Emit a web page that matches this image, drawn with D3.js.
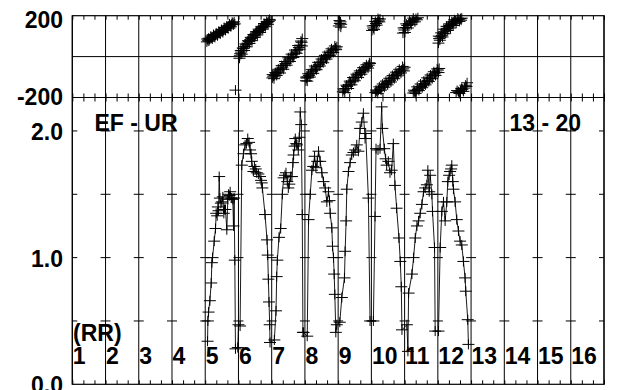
<!DOCTYPE html>
<html><head><meta charset="utf-8">
<script src="https://cdn.jsdelivr.net/npm/d3@7"></script>
<style>
body{margin:0;background:#fff}
svg text{font-family:"Liberation Sans",Arial,sans-serif;font-weight:bold;font-size:23px;fill:#000}
</style>
</head><body><svg id="c" width="618" height="390"></svg>
<script>
// ---------- data ----------
const hourLabels = ["1","2","3","4","5","6","7","8","9","10","11","12","13","14","15","16"];
const baselineLabel = "EF - UR";
const rangeLabel = "13 - 20";
const unitLabel = "(RR)";

const ampHours = [
 5.07,5.08,5.10,5.14,5.18,5.20,5.22,5.27,5.31,5.33,5.36,5.38,5.40,5.42,5.44,5.47,5.50,5.53,5.56,5.58,5.61,5.65,5.68,5.70,5.73,5.75,5.78,5.80,5.83,5.85,5.87,5.89,5.91,5.98,
 6.00,6.05,6.10,6.15,6.20,6.24,6.28,6.32,6.35,6.38,6.40,6.45,6.48,6.52,6.55,6.60,6.65,6.68,6.70,6.72,6.80,6.86,6.88,6.90,6.92,6.94,6.95,
 7.08,7.13,7.15,7.17,7.22,7.27,7.32,7.36,7.40,7.43,7.47,7.50,7.53,7.57,7.61,7.64,7.66,7.69,7.71,7.74,7.76,7.80,7.83,7.86,7.89,7.92,7.94,7.96,8.07,
 8.11,8.16,8.21,8.25,8.29,8.33,8.37,8.41,8.46,8.51,8.56,8.61,8.66,8.71,8.74,8.76,8.81,8.83,8.86,8.88,8.90,8.93,8.96,
 9.05,9.11,9.19,9.21,9.24,9.26,9.31,9.36,9.41,9.46,9.51,9.56,9.61,9.66,9.71,9.76,9.81,9.83,9.91,9.96,10.06,
 10.11,10.14,10.20,10.26,10.31,10.33,10.39,10.43,10.46,10.51,10.56,10.61,10.66,10.71,10.76,10.83,10.87,10.90,10.92,11.07,
 11.10,11.12,11.22,11.27,11.32,11.37,11.42,11.47,11.52,11.57,11.62,11.67,11.70,11.74,11.77,11.82,11.84,11.90,11.92,12.02,
 12.07,12.12,12.17,12.22,12.27,12.30,12.34,12.37,12.40,12.42,12.45,12.47,12.52,12.57,12.62,12.67,12.72,12.77,12.82,12.84,12.90,12.92
];
const ampValues = [
 0.34,0.50,0.57,0.66,0.80,0.96,1.00,1.13,1.23,1.35,1.33,1.40,1.37,1.64,1.47,1.43,1.44,1.48,1.35,1.38,1.38,1.22,1.46,1.50,1.49,1.52,1.47,1.47,1.46,1.25,1.47,0.98,0.28,0.29,
 0.47,0.46,1.73,1.82,1.89,1.90,1.94,1.91,1.85,1.82,1.76,1.68,1.72,1.70,1.67,1.66,1.64,1.61,1.59,1.55,1.34,1.14,1.02,0.83,0.65,0.47,0.33,
 0.35,0.58,0.85,0.98,1.16,1.23,1.50,1.63,1.65,1.67,1.60,1.55,1.58,1.64,1.64,1.75,1.81,1.88,1.94,1.90,1.89,1.85,1.95,2.15,2.05,1.34,0.41,0.41,0.38,
 1.30,1.50,1.69,1.72,1.80,1.71,1.76,1.84,1.76,1.67,1.60,1.55,1.44,1.52,1.45,1.35,1.235,1.09,1.00,0.87,0.71,0.41,0.47,
 0.49,0.685,0.84,1.05,1.29,1.54,1.68,1.75,1.81,1.83,1.85,1.89,1.84,2.02,2.07,2.14,1.94,1.98,1.47,0.50,0.50,
 1.325,1.86,1.85,1.86,2.19,2.02,1.86,1.78,1.73,1.76,1.67,1.69,1.90,1.57,1.39,1.155,0.97,0.77,0.43,0.47,
 0.26,0.72,0.87,1.00,1.155,1.25,1.29,1.35,1.42,1.52,1.55,1.575,1.69,1.52,1.65,1.50,1.365,1.08,0.42,0.42,
 1.08,1.365,1.44,1.29,1.44,1.60,1.65,1.68,1.70,1.73,1.60,1.54,1.44,1.30,1.21,1.13,1.10,0.97,0.84,0.735,0.51,0.315
];

const phaseHours = [
 5.05,5.08,5.11,5.15,5.19,5.23,5.27,5.31,5.35,5.39,5.43,5.47,5.51,5.55,5.59,5.63,5.67,5.71,5.75,5.79,5.83,5.87,5.89,
 5.06,5.10,5.13,5.17,5.21,5.25,5.29,5.33,5.37,5.41,5.45,5.49,5.53,5.57,5.61,5.65,5.69,5.73,5.77,5.81,5.85,
 5.91,
 6.03,6.05,6.08,6.11,6.15,6.19,6.23,6.27,6.31,6.35,6.39,6.43,6.47,6.51,6.55,6.59,6.63,6.67,6.71,6.75,6.79,6.83,6.87,6.91,6.95,
 6.04,6.07,6.10,6.13,6.17,6.21,6.25,6.29,6.33,6.37,6.41,6.45,6.49,6.53,6.57,6.61,6.65,6.69,6.73,6.77,6.81,6.85,6.89,6.93,
 7.02,7.05,7.09,7.13,7.17,7.22,7.27,7.32,7.37,7.42,7.47,7.52,7.57,7.62,7.67,7.72,7.77,7.82,7.86,7.90,7.92,
 7.03,7.07,7.11,7.15,7.20,7.25,7.30,7.35,7.40,7.45,7.50,7.55,7.60,7.65,7.70,7.75,7.80,7.84,7.88,7.91,
 8.03,8.05,8.08,8.12,8.17,8.22,8.27,8.32,8.37,8.42,8.47,8.52,8.57,8.62,8.67,8.72,8.77,8.82,8.87,8.92,8.96,
 8.04,8.07,8.10,8.15,8.20,8.25,8.30,8.35,8.40,8.45,8.50,8.55,8.60,8.65,8.70,8.75,8.80,8.85,8.90,8.94,
 9.02,9.05,9.07,9.09,9.04,9.08,
 9.14,9.18,9.22,9.27,9.32,9.37,9.42,9.47,9.52,9.57,9.62,9.67,9.72,9.77,9.82,9.87,9.92,9.96,
 9.16,9.20,9.25,9.30,9.35,9.40,9.45,9.50,9.55,9.60,9.65,9.70,9.75,9.80,9.85,9.90,9.94,
 10.02,10.06,10.10,10.14,10.18,10.22,10.26,10.04,10.08,10.12,10.16,10.20,10.24,
 10.12,10.16,10.21,10.26,10.31,10.36,10.41,10.46,10.51,10.56,10.61,10.66,10.71,10.76,10.81,10.86,10.91,10.96,11.00,
 10.14,10.19,10.24,10.29,10.34,10.39,10.44,10.49,10.54,10.59,10.64,10.69,10.74,10.79,10.84,10.89,10.94,10.98,
 10.95,10.99,11.03,11.08,11.13,11.18,11.23,11.28,11.34,11.40,
 10.97,11.01,11.05,11.10,11.15,11.20,11.26,11.31,11.37,
 11.26,11.30,11.35,11.40,11.45,11.50,11.55,11.60,11.65,11.70,11.75,11.80,11.85,11.90,11.95,12.00,12.04,
 11.28,11.33,11.38,11.43,11.48,11.53,11.58,11.63,11.68,11.73,11.78,11.83,11.88,11.93,11.98,12.02,
 12.02,12.04,12.08,12.12,12.16,12.20,12.24,12.28,12.32,12.36,12.40,12.44,12.48,12.53,12.58,12.63,12.68,12.72,
 12.03,12.06,12.10,12.14,12.18,12.22,12.26,12.30,12.34,12.38,12.42,12.46,12.50,12.55,12.60,12.65,12.70,
 12.55,12.62,12.68,12.74,12.80,12.86,12.88,12.58,12.65,12.71,12.77,12.83
];
const phaseDeg = [
 72,80,76,88,92,96,100,104,110,114,118,122,126,130,134,140,144,150,154,158,164,170,160,
 86,90,84,100,86,108,94,116,102,124,110,132,118,142,128,150,136,160,146,168,156,
 -164,
 -8,14,22,30,40,50,58,66,74,82,88,96,104,110,116,122,128,136,142,148,154,160,166,172,178,
 4,30,12,42,30,62,48,78,64,94,78,108,94,122,106,134,118,148,134,162,146,172,158,182,
 -104,-96,-92,-84,-76,-70,-60,-52,-42,-34,-26,-16,-8,2,12,22,32,44,56,70,88,
 -88,-108,-78,-92,-62,-80,-44,-62,-24,-42,-6,-24,12,-4,32,16,54,36,76,52,
 -118,-105,-100,-92,-84,-74,-66,-56,-48,-38,-30,-22,-12,-4,4,12,20,28,34,42,48,
 -100,-120,-84,-100,-64,-82,-46,-64,-28,-46,-12,-30,6,-12,22,6,38,20,52,34,
 150,162,170,158,176,144,
 -172,-164,-156,-146,-138,-128,-120,-110,-102,-94,-86,-78,-70,-62,-56,-48,-42,-34,
 -158,-176,-140,-156,-120,-138,-102,-118,-86,-102,-70,-86,-54,-70,-40,-56,-30,
 128,140,152,162,170,178,184,150,132,172,154,186,170,
 -176,-170,-164,-158,-150,-144,-136,-130,-124,-116,-108,-100,-92,-86,-80,-72,-66,-60,-52,
 -164,-180,-148,-164,-134,-150,-120,-138,-106,-124,-92,-108,-76,-94,-62,-80,-48,-70,
 115,130,142,152,160,168,174,180,186,190,
 140,118,160,140,174,156,188,170,180,
 -178,-172,-166,-160,-154,-146,-140,-132,-124,-116,-108,-100,-92,-84,-76,-66,-58,
 -164,-180,-148,-166,-134,-152,-120,-138,-104,-122,-90,-108,-74,-92,-60,-78,
 66,88,96,104,114,122,130,138,146,152,158,164,170,174,178,182,186,188,
 100,80,116,96,134,112,148,128,160,140,170,152,180,164,188,172,178,
 -176,-172,-168,-160,-154,-146,-128,-166,-180,-156,-170,-140
];

const ampTickValues = [0.5, 1.0, 1.5, 2.0];
const ampLabelValues = [0, 1, 2];
const ampLabelText = ["0.0", "1.0", "2.0"];
const phaseLabelValues = [200, -200];
const phaseLabelText = ["200", "-200"];

// ---------- layout ----------
const L = 72.3, R = 604, T = 15.7, MID = 97.5, B = 384.3;
const svg = d3.select("#c");
const x = d3.scaleLinear().domain([1, 17]).range([L, R]);
const yP = d3.scaleLinear().domain([-200, 200]).range([MID, T]);
const yA = d3.scaleLinear().domain([0, 2.264]).range([B, MID]);

const hourLines = d3.range(1, 18);
const minorTicks = d3.range(1, 17.001, 1/3);

// vertical hour grid lines
svg.append("g").selectAll("line").data(hourLines).join("line")
  .attr("x1", d => x(d)).attr("x2", d => x(d)).attr("y1", T).attr("y2", B)
  .attr("stroke", "#000").attr("stroke-width", 1);

// frames
svg.append("rect").attr("x", L).attr("y", T).attr("width", R - L).attr("height", B - T)
  .attr("fill", "none").attr("stroke", "#000").attr("stroke-width", 1.2);
svg.append("line").attr("x1", L).attr("x2", R).attr("y1", MID).attr("y2", MID)
  .attr("stroke", "#000").attr("stroke-width", 1.2);
svg.append("line").attr("x1", L).attr("x2", R).attr("y1", yP(0)).attr("y2", yP(0))
  .attr("stroke", "#000").attr("stroke-width", 1);

// minor time ticks via d3 axes
function minorAxis(axisFn, y, size) {
  const g = svg.append("g").attr("transform", `translate(0,${y})`)
    .call(axisFn(x).tickValues(minorTicks).tickSize(size).tickFormat(""));
  g.select(".domain").remove();
  g.selectAll("line").attr("stroke", "#000");
}
minorAxis(d3.axisBottom, T, 4);
minorAxis(d3.axisTop, MID, 4);
minorAxis(d3.axisBottom, MID, 4);
minorAxis(d3.axisTop, B, 4);

// amplitude tick dashes across every hour line
const tickPairs = [];
hourLines.forEach(h => ampTickValues.forEach(v => tickPairs.push([h, v])));
svg.append("g").selectAll("line").data(tickPairs).join("line")
  .attr("x1", d => d[0] === 1 ? x(d[0]) : x(d[0]) - 5)
  .attr("x2", d => d[0] === 17 ? x(d[0]) : x(d[0]) + 5)
  .attr("y1", d => yA(d[1])).attr("y2", d => yA(d[1]))
  .attr("stroke", "#000").attr("stroke-width", 1);

// y labels
svg.append("g").selectAll("text").data(phaseLabelValues).join("text")
  .attr("x", 63).attr("y", (d, i) => i === 0 ? 28 : yP(d) + 7)
  .attr("text-anchor", "end").text((d, i) => phaseLabelText[i]);
svg.append("g").selectAll("text").data(ampLabelValues).join("text")
  .attr("x", 63).attr("y", d => yA(d) + 9)
  .attr("text-anchor", "end").text((d, i) => ampLabelText[i]);

// hour labels
svg.append("g").selectAll("text").data(hourLabels).join("text")
  .attr("x", (d, i) => x(i + 1) + 0.5).attr("y", 363.5).text(d => d);
svg.append("text").attr("x", 73).attr("y", 340.5).text(unitLabel);
svg.append("text").attr("x", 94.5).attr("y", 131).text(baselineLabel);
svg.append("text").attr("x", 509.5).attr("y", 131).text(rangeLabel);

// amplitude line + markers
const ampPts = ampHours.map((h, i) => [h, ampValues[i]]);
svg.append("path").datum(ampPts)
  .attr("d", d3.line().x(d => x(d[0])).y(d => yA(d[1])))
  .attr("fill", "none").attr("stroke", "#000").attr("stroke-width", 0.9);
const plus = "M-6,0H6M0,-5V5";
svg.append("g").selectAll("path").data(ampPts).join("path")
  .attr("transform", d => `translate(${x(d[0])},${yA(d[1])})`)
  .attr("d", plus).attr("stroke", "#000").attr("stroke-width", 1).attr("fill", "none");

// phase markers
const phPts = phaseHours.map((h, i) => [h, phaseDeg[i]]);
svg.append("g").selectAll("path").data(phPts).join("path")
  .attr("transform", d => `translate(${x(d[0])},${yP(d[1])})`)
  .attr("d", plus).attr("stroke", "#000").attr("stroke-width", 1).attr("fill", "none");
</script>
</body></html>
